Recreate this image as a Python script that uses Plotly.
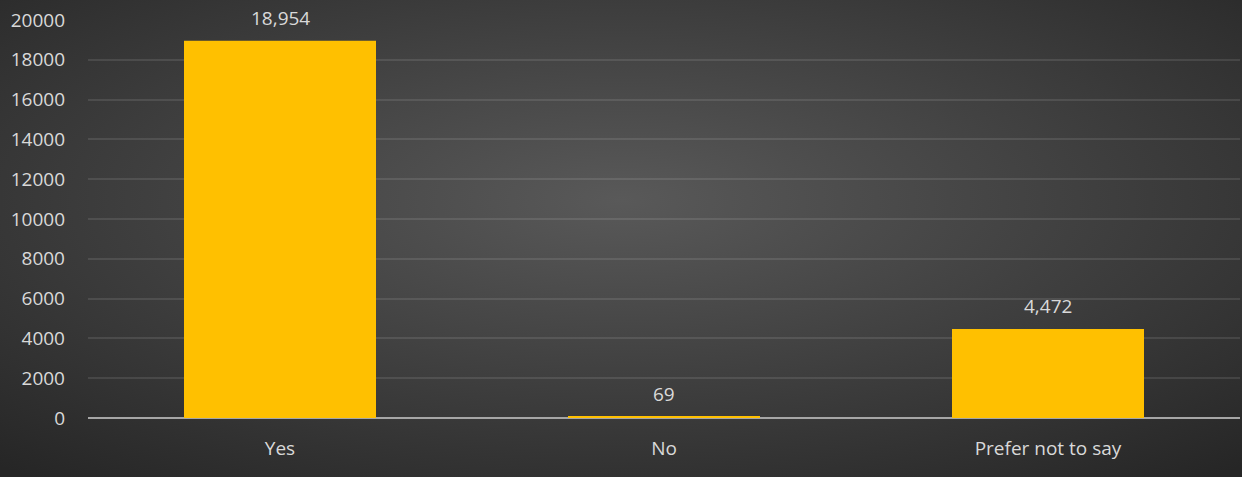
import plotly.graph_objects as go
import urllib.parse

categories = ["Yes", "No", "Prefer not to say"]
values = [18954, 69, 4472]
y_ticks = [0, 2000, 4000, 6000, 8000, 10000, 12000, 14000, 16000, 18000, 20000]

W, H = 1242, 477
L, R, T, B = 88, 2, 20, 59
pw, ph = W - L - R, H - T - B
FONT = "Open Sans, Noto Sans, sans-serif"
TXT = "#d9d9d9"

svg = (
    f'<svg xmlns="http://www.w3.org/2000/svg" width="{W}" height="{H}" viewBox="0 0 {W} {H}" preserveAspectRatio="none">'
    '<defs><radialGradient id="g" cx="0.5" cy="0.42" r="0.75" gradientUnits="objectBoundingBox">'
    '<stop offset="0" stop-color="#595959"/><stop offset="1" stop-color="#262626"/>'
    '</radialGradient></defs>'
    f'<rect width="{W}" height="{H}" fill="url(#g)"/></svg>'
)
bg_uri = "data:image/svg+xml;charset=utf-8," + urllib.parse.quote(svg)

fig = go.Figure()
fig.add_trace(go.Bar(
    x=categories, y=values,
    marker=dict(color="#FFC000", line=dict(width=0)),
    hoverinfo="skip",
))

for c, v in zip(categories, values):
    fig.add_annotation(
        x=c, y=v, text=f"{v:,}", showarrow=False,
        yanchor="bottom", yshift=8,
        font=dict(family=FONT, size=19, color=TXT),
    )

fig.update_layout(
    width=W, height=H,
    margin=dict(l=L, r=R, t=T, b=B),
    paper_bgcolor="#3a3a3a",
    plot_bgcolor="rgba(0,0,0,0)",
    bargap=0.5,
    showlegend=False,
    font=dict(family=FONT, size=19, color=TXT),
    images=[dict(
        source=bg_uri, xref="paper", yref="paper",
        x=-L / pw, y=1 + T / ph, sizex=W / pw, sizey=H / ph,
        xanchor="left", yanchor="top", sizing="stretch", layer="below",
    )],
    xaxis=dict(
        showgrid=False, showline=False, zeroline=False,
        ticks="", ticklabelstandoff=17,
        tickfont=dict(size=19, color=TXT),
    ),
    yaxis=dict(
        range=[0, 20000], tickvals=y_ticks, ticktext=[str(t) for t in y_ticks],
        showgrid=True, gridcolor="rgba(255,255,255,0.10)", gridwidth=1.5,
        zeroline=True, zerolinecolor="#a6a6a6", zerolinewidth=2,
        showline=False, ticks="", ticklabelstandoff=22,
        tickfont=dict(size=19, color=TXT),
    ),
)

fig.write_html(
    "out.html",
    config={"displayModeBar": False},
    post_script="document.body.style.margin='0';document.body.style.overflow='hidden';",
)
